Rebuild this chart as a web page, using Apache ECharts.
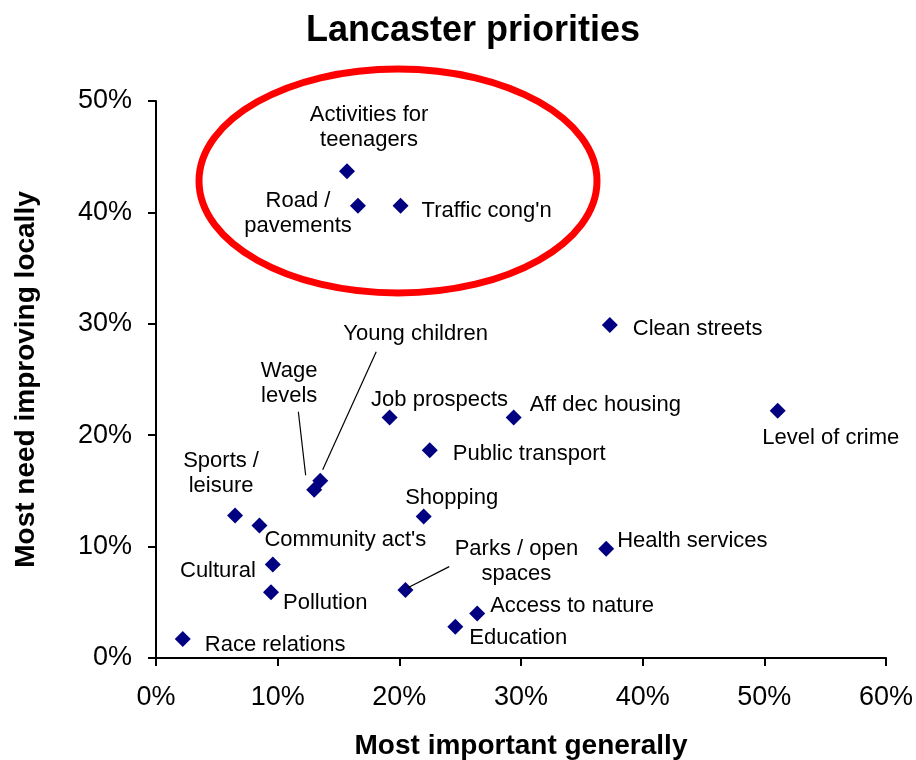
<!DOCTYPE html>
<html>
  <head>
    <meta charset="UTF-8" />
    <title>Lancaster priorities</title>
    <style>
      body { margin: 0; background: #fff; }
      #chart { width: 916px; height: 760px; }
    </style>
    <script type="text/javascript" src="https://cdn.jsdelivr.net/npm/echarts@6/dist/echarts.min.js"></script>
  </head>
  <body>
    <div id="chart"></div>

    <script>
      var names = [
        "Activities for\nteenagers",
        "Road /\npavements",
        "Traffic cong'n",
        "Clean streets",
        "Level of crime",
        "Aff dec housing",
        "Job prospects",
        "Public transport",
        "Young children",
        "Wage\nlevels",
        "Sports /\nleisure",
        "Community act's",
        "Shopping",
        "Health services",
        "Cultural",
        "Pollution",
        "Parks / open\nspaces",
        "Access to nature",
        "Education",
        "Race relations"
      ];

      // % saying most important generally (x)
      var importantGenerally = [15.7, 16.6, 20.1, 37.3, 51.1, 29.4, 19.2, 22.5, 13.5, 13.0,
        6.5, 8.5, 22.0, 37.0, 9.6, 9.45, 20.5, 26.4, 24.6, 2.2];

      // % saying most need improving locally (y)
      var needImproving = [43.7, 40.6, 40.6, 29.9, 22.2, 21.6, 21.6, 18.65, 15.9, 15.1,
        12.8, 11.9, 12.7, 9.8, 8.4, 5.9, 6.1, 4.0, 2.8, 1.7];

      // leader lines [x1, y1, x2, y2] in axis units
      var leaderLines = [
        [18.1, 27.5, 13.7, 16.9],
        [11.7, 22.1, 12.3, 16.4],
        [24.1, 8.2, 20.7, 6.3]
      ];

      var xTicks = { min: 0, max: 60, step: 10 };
      var yTicks = { min: 0, max: 50, step: 10 };

      // label placement: [dx, dy, align] from marker centre
      var labelPlace = [
        [22, -47, "center"], [-60, 5, "center"], [21, 2, "left"], [23, 1, "left"],
        [53, 24, "center"], [16, -15, "left"], [50, -20, "center"], [23, 1, "left"],
        [23, -150, "left"], [-25, -109, "center"], [-14, -45, "center"], [5, 12, "left"],
        [28, -22, "center"], [11, -11, "left"], [-17, 4, "right"], [12, 8, "left"],
        [111, -32, "center"], [13, -11, "left"], [14, 8, "left"], [22, 3, "left"]
      ];

      var font = "'Liberation Sans', Arial, sans-serif";

      var points = names.map(function (n, i) {
        var p = labelPlace[i];
        return {
          name: n,
          value: [importantGenerally[i], needImproving[i]],
          label: {
            position: "inside",
            align: p[2],
            verticalAlign: "middle",
            offset: [p[0], p[1] + 3]
          }
        };
      });

      var leaders = leaderLines.map(function (l) {
        return [{ coord: [l[0], l[1]] }, { coord: [l[2], l[3]] }];
      });

      var myChart = echarts.init(document.getElementById("chart"));

      var option = {
        backgroundColor: "#fff",
        animation: false,
        textStyle: { fontFamily: font },
        title: {
          text: "Lancaster priorities",
          left: 301,
          top: 8,
          textStyle: { fontSize: 36, fontWeight: "bold", color: "#000", fontFamily: font }
        },
        grid: { left: 156, right: 30, top: 101, bottom: 102, outerBoundsMode: "none" },
        xAxis: {
          type: "value",
          min: xTicks.min,
          max: xTicks.max,
          interval: xTicks.step,
          name: "Most important generally",
          nameLocation: "middle",
          nameGap: 74,
          nameTextStyle: { fontSize: 28, fontWeight: "bold", color: "#000", fontFamily: font },
          axisLine: { show: true, lineStyle: { color: "#000", width: 2 } },
          axisTick: { show: true, length: 8, lineStyle: { color: "#000", width: 2 } },
          axisLabel: { formatter: "{value}%", fontSize: 27, color: "#000", margin: 26 },
          splitLine: { show: false }
        },
        yAxis: {
          type: "value",
          min: yTicks.min,
          max: yTicks.max,
          interval: yTicks.step,
          name: "Most need improving locally",
          nameLocation: "middle",
          nameGap: 116,
          nameTextStyle: { fontSize: 28, fontWeight: "bold", color: "#000", fontFamily: font },
          axisLine: { show: true, lineStyle: { color: "#000", width: 2 } },
          axisTick: { show: true, length: 8, lineStyle: { color: "#000", width: 2 } },
          axisLabel: { formatter: "{value}%", fontSize: 27, color: "#000", margin: 24 },
          splitLine: { show: false }
        },
        series: [
          {
            type: "scatter",
            symbol: "diamond",
            symbolSize: 16,
            itemStyle: { color: "#000080", opacity: 1 },
            label: {
              show: true,
              formatter: "{b}",
              fontSize: 22,
              lineHeight: 25,
              color: "#000",
              fontFamily: font
            },
            data: points,
            markLine: {
              silent: true,
              symbol: ["none", "none"],
              label: { show: false },
              lineStyle: { color: "#000", width: 1.2, type: "solid", opacity: 1 },
              data: leaders
            }
          }
        ],
        graphic: [
          {
            type: "ellipse",
            shape: { cx: 398, cy: 181, rx: 199, ry: 112 },
            style: { fill: "none", stroke: "#ff0000", lineWidth: 7 },
            z: 10
          }
        ]
      };

      myChart.setOption(option);
    </script>
  </body>
</html>
